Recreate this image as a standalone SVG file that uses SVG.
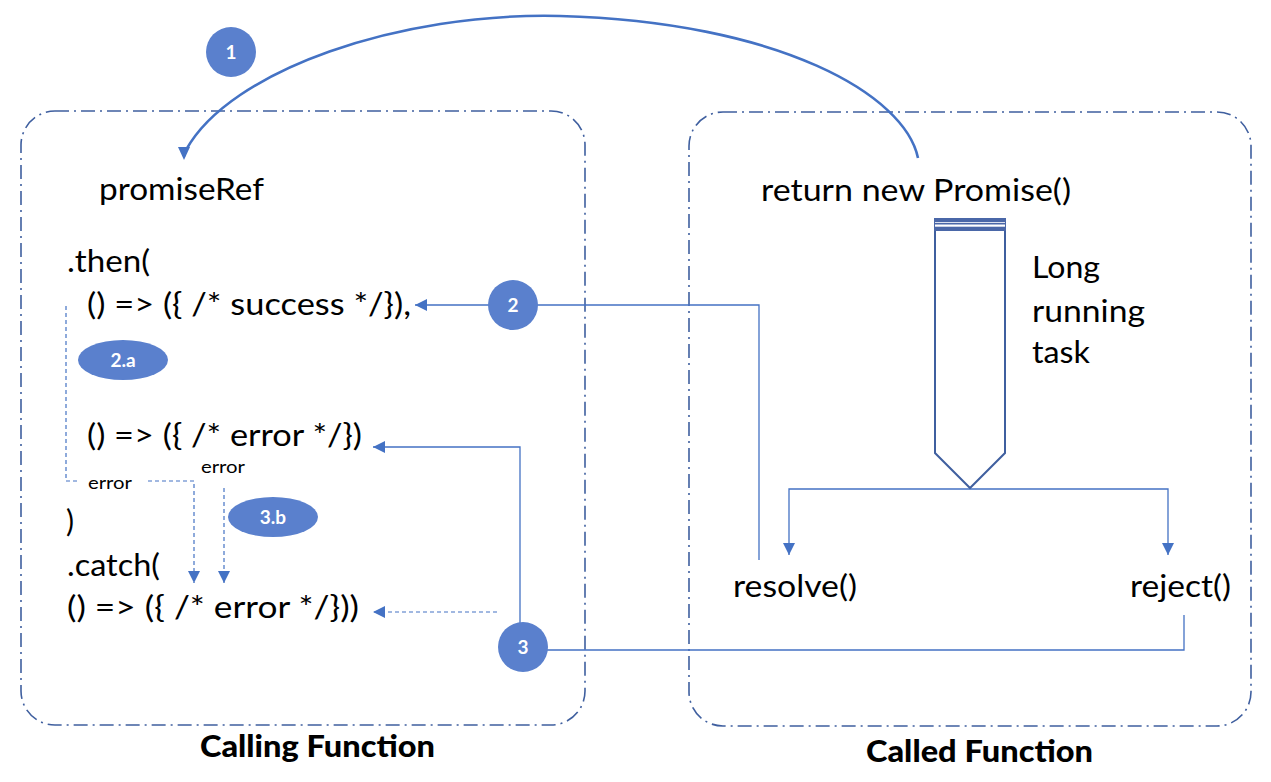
<svg xmlns="http://www.w3.org/2000/svg" width="1271" height="782" viewBox="0 0 1271 782">
<style>
.frame{fill:none;stroke:#3F5F9F;stroke-width:1.6;stroke-dasharray:14 5 2 5}
.code{font-family:Lato,"Liberation Sans",sans-serif;font-size:30px;fill:#000}
.small{font-family:Lato,"Liberation Sans",sans-serif;font-size:17px;fill:#000}
.title{font-family:Lato,"Liberation Sans",sans-serif;font-size:30px;font-weight:900;fill:#000}
.badge{fill:#5A80CD}
.btxt{font-family:Lato,"Liberation Sans",sans-serif;font-size:19px;font-weight:bold;fill:#fff;text-anchor:middle}
.ln{fill:none;stroke:#4472C4;stroke-width:1.3}
.dash{fill:none;stroke:#4472C4;stroke-width:1.2;stroke-dasharray:4 3}
</style>
<defs>
<marker id="ah" viewBox="0 0 10 10" refX="10" refY="5" markerWidth="12" markerHeight="12" markerUnits="userSpaceOnUse" orient="auto"><path d="M0,0 L10,5 L0,10 z" fill="#4472C4"/></marker>
</defs>
<rect width="1271" height="782" fill="#fff"/>

<g id="calling-frame">
<rect class="frame" x="21" y="111" width="564" height="614" rx="34" ry="34"/>
<text class="title" x="200" y="757" textLength="235" lengthAdjust="spacingAndGlyphs">Calling Function</text>
</g>
<g id="called-frame">
<rect class="frame" x="689" y="112" width="562" height="614" rx="34" ry="34"/>
<text class="title" x="866" y="762" textLength="227" lengthAdjust="spacingAndGlyphs">Called Function</text>
</g>

<g id="connectors">
<path d="M918,158 C905,95 780,22 560,16 C400,12 230,70 186,150 L184,156" fill="none" stroke="#4472C4" stroke-width="2.6"/>
<path d="M178,147 L184,160 L190,147 z" fill="#4472C4"/>
<path class="ln" d="M759,560 V305 H415" marker-end="url(#ah)"/>
<path class="ln" d="M1184,615 V650 H520 V447 H373" marker-end="url(#ah)"/>
<path class="ln" d="M970,489 H789 V555" marker-end="url(#ah)"/>
<path class="ln" d="M970,489 H1168 V555" marker-end="url(#ah)"/>
<path class="dash" d="M497,612 H373" marker-end="url(#ah)"/>
<path class="dash" d="M66,306 V481 H80"/>
<path class="dash" d="M148,481 H194 V583" marker-end="url(#ah)"/>
<path class="dash" d="M224,488 V583" marker-end="url(#ah)"/>
</g>

<g id="promiseRef"><text class="code" x="99" y="200" textLength="165" lengthAdjust="spacingAndGlyphs">promiseRef</text></g>
<g id="then"><text class="code" x="67" y="272" textLength="83" lengthAdjust="spacingAndGlyphs">.then(</text></g>
<g id="success-handler"><text class="code" x="87" y="315" textLength="324" lengthAdjust="spacingAndGlyphs">() =&gt; ({ /* success */}),</text></g>
<g id="error-handler"><text class="code" x="87" y="446" textLength="275" lengthAdjust="spacingAndGlyphs">() =&gt; ({ /* error */})</text></g>
<g id="close-paren"><text class="code" x="66" y="532">)</text></g>
<g id="catch"><text class="code" x="67" y="576" textLength="93" lengthAdjust="spacingAndGlyphs">.catch(</text></g>
<g id="catch-handler"><text class="code" x="67" y="618" textLength="292" lengthAdjust="spacingAndGlyphs">() =&gt; ({ /* error */}))</text></g>
<g id="error-label-1"><text class="small" x="88" y="489" textLength="44" lengthAdjust="spacingAndGlyphs">error</text></g>
<g id="error-label-2"><text class="small" x="201" y="473" textLength="44" lengthAdjust="spacingAndGlyphs">error</text></g>

<g id="return-promise"><text class="code" x="761" y="201" textLength="310" lengthAdjust="spacingAndGlyphs">return new Promise()</text></g>
<g id="long-task">
<path d="M935,231 V453 L970,488 L1005,453 V231" fill="#fff" stroke="#3F5F9F" stroke-width="2"/>
<rect x="934" y="218" width="72" height="13" fill="#4A67A8"/>
<rect x="935" y="222" width="70" height="0.8" fill="#fff"/>
<rect x="935" y="224.5" width="70" height="2.2" fill="#fff"/>
<text class="code" x="1032" y="278" textLength="68" lengthAdjust="spacingAndGlyphs">Long</text>
<text class="code" x="1032" y="322" textLength="113" lengthAdjust="spacingAndGlyphs">running</text>
<text class="code" x="1032" y="363" textLength="58" lengthAdjust="spacingAndGlyphs">task</text>
</g>
<g id="resolve"><text class="code" x="733" y="597" textLength="124" lengthAdjust="spacingAndGlyphs">resolve()</text></g>
<g id="reject"><text class="code" x="1130" y="597" textLength="101" lengthAdjust="spacingAndGlyphs">reject()</text></g>

<g id="badge-1"><circle class="badge" cx="231" cy="52" r="25"/><text class="btxt" x="231" y="59">1</text></g>
<g id="badge-2"><circle class="badge" cx="513" cy="305" r="25"/><text class="btxt" x="513" y="312">2</text></g>
<g id="badge-2a"><ellipse class="badge" cx="123" cy="360" rx="45" ry="20"/><text class="btxt" x="123" y="367">2.a</text></g>
<g id="badge-3b"><ellipse class="badge" cx="273" cy="517" rx="45" ry="20"/><text class="btxt" x="273" y="524">3.b</text></g>
<g id="badge-3"><circle class="badge" cx="523" cy="647" r="25"/><text class="btxt" x="523" y="654">3</text></g>
</svg>
